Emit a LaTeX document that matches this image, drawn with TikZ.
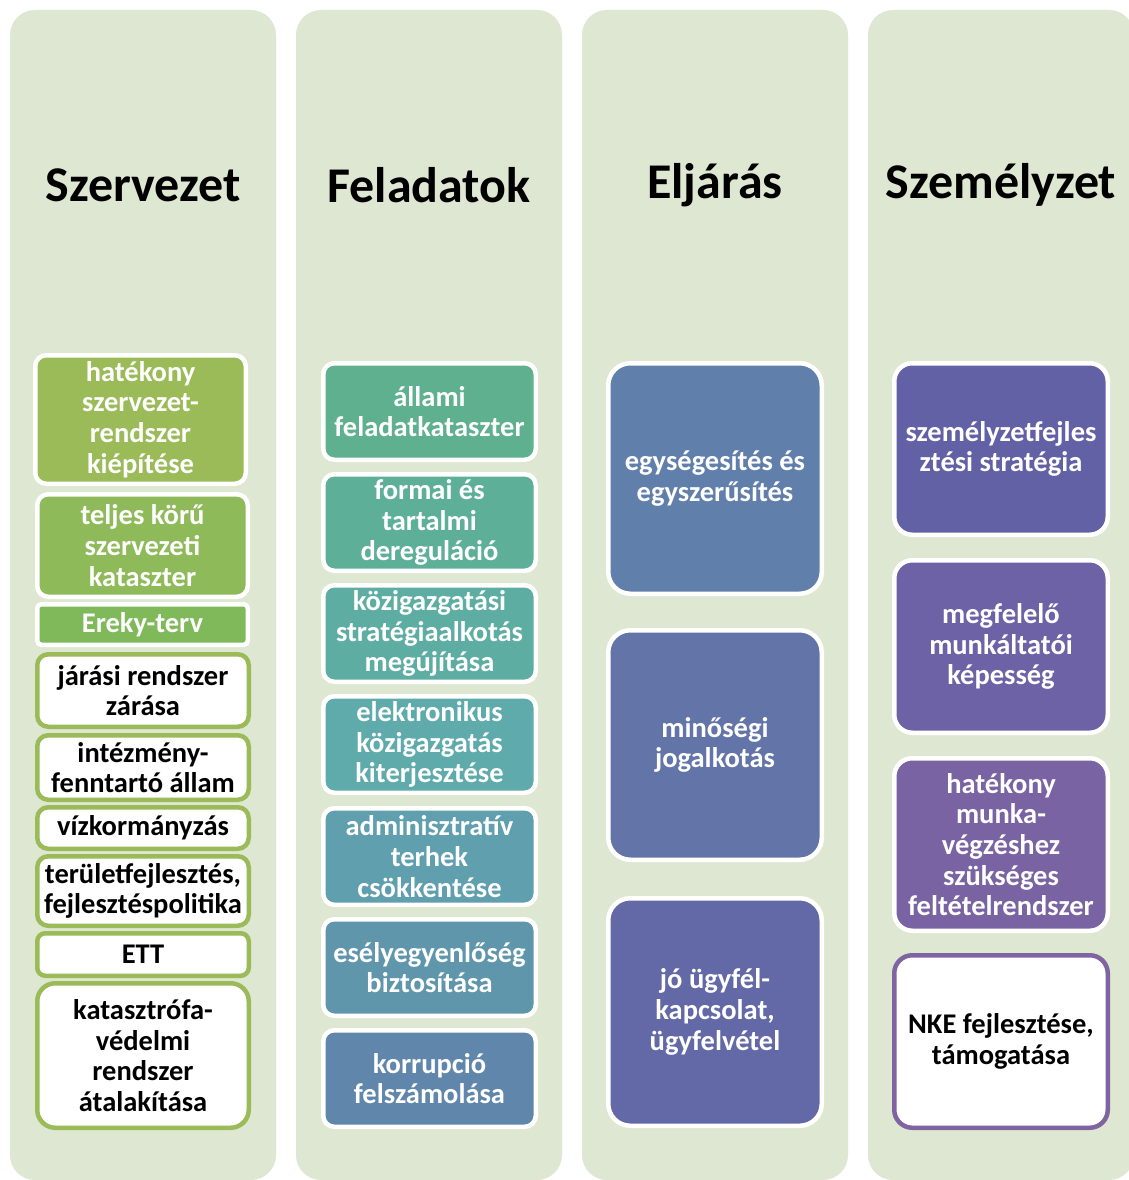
\documentclass[tikz,border=0pt]{standalone}
\usepackage{fontspec}
\setmainfont{Carlito}
\definecolor{colbg}{RGB}{222,231,209}
\definecolor{gA}{RGB}{155,187,89}
\definecolor{gB}{RGB}{142,186,89}
\definecolor{gC}{RGB}{128,185,90}
\definecolor{tA}{RGB}{94,176,143}
\definecolor{tB}{RGB}{94,175,151}
\definecolor{tC}{RGB}{94,173,163}
\definecolor{tD}{RGB}{95,171,172}
\definecolor{tE}{RGB}{95,159,174}
\definecolor{tF}{RGB}{96,150,172}
\definecolor{tG}{RGB}{96,135,171}
\definecolor{bA}{RGB}{96,127,171}
\definecolor{bB}{RGB}{98,116,168}
\definecolor{bC}{RGB}{99,104,166}
\definecolor{pA}{RGB}{99,97,165}
\definecolor{pB}{RGB}{110,98,166}
\definecolor{pC}{RGB}{121,99,163}
\definecolor{pD}{RGB}{128,100,162}
\tikzset{
  colbox/.style={fill=colbg, rounded corners=25pt},
  coltitle/.style={font=\fontsize{50}{58}\selectfont\bfseries, inner sep=0pt},
  bxbase/.style={align=center, font=\fontsize{28.5}{30.7}\selectfont\bfseries, inner sep=0pt, line width=4.5pt},
  wbox/.style={bxbase, draw=white, text=white, fill=#1},
  gbox/.style={bxbase, draw=gA, fill=white, text=black},
  pbox/.style={bxbase, draw=pD, fill=white, text=black},
  rA/.style={rounded corners=11pt},
  rB/.style={rounded corners=18pt},
  rC/.style={rounded corners=22pt},
}
\newcommand\bx[7]{%
  \node[#6, minimum width={#4-#2-4.5}, minimum height={#5-#3-4.5}] (#1)
    at ({(#2+#4)/2},{(#3+#5)/2}) {#7};}
\begin{document}
\begin{tikzpicture}[x=1pt,y=-1pt]
\clip (0,0) rectangle (1129,1180);
\fill[white] (0,0) rectangle (1129,1180);
% columns
\path[colbox] (10,10) rectangle (276,1180);
\path[colbox] (296,10) rectangle (562,1180);
\path[colbox] (582,10) rectangle (848,1180);
\path[colbox] (868,10) rectangle (1134,1180);
% titles
\node[coltitle] (t1) at (143,185) {Szervezet};
\node[coltitle] (t2) at (429,185) {Feladatok};
\node[coltitle] (t3) at (715,185) {Eljárás};
\node[coltitle] (t4) at (1001,185) {Személyzet};
% column 1
\bx{a1}{33}{353}{248}{486}{wbox=gA,rA}{hatékony\\szervezet-\\rendszer\\kiépítése}
\bx{a2}{35}{492}{250}{599}{wbox=gB,rA}{teljes körű\\szervezeti\\kataszter}
\bx{a3}{35}{602}{250}{647}{wbox=gC,rounded corners=4pt}{Ereky-terv}
\bx{a4}{35}{652}{251}{729}{gbox,rA}{járási rendszer\\zárása}
\bx{a5}{35}{733}{251}{802}{gbox,rA}{intézmény-\\fenntartó állam}
\bx{a6}{35}{805}{251}{851}{gbox,rA}{vízkormányzás}
\bx{a7}{35}{854}{251}{928}{gbox,rA}{területfejlesztés,\\fejlesztéspolitika}
\bx{a8}{35}{931}{251}{978}{gbox,rounded corners=8pt}{ETT}
\bx{a9}{35}{981}{251}{1130}{gbox,rB}{katasztrófa-\\védelmi\\rendszer\\átalakítása}
% column 2
\bx{b1}{321}{361}{538}{462}{wbox=tA,rA}{állami\\feladatkataszter}
\bx{b2}{321}{472}{538}{573}{wbox=tB,rA}{formai és\\tartalmi\\dereguláció}
\bx{b3}{321}{583}{538}{684}{wbox=tC,rA}{közigazgatási\\stratégiaalkotás\\megújítása}
\bx{b4}{321}{694}{538}{795}{wbox=tD,rA}{elektronikus\\közigazgatás\\kiterjesztése}
\bx{b5}{321}{806}{538}{907}{wbox=tE,rA}{adminisztratív\\terhek\\csökkentése}
\bx{b6}{321}{917}{538}{1018}{wbox=tF,rA}{esélyegyenlőség\\biztosítása}
\bx{b7}{321}{1028}{538}{1129}{wbox=tG,rA}{korrupció\\felszámolása}
% column 3
\bx{c1}{606}{361}{824}{596}{wbox=bA,rC}{egységesítés és\\egyszerűsítés}
\bx{c2}{606}{628}{824}{862}{wbox=bB,rC}{minőségi\\jogalkotás}
\bx{c3}{606}{896}{824}{1128}{wbox=bC,rC}{jó ügyfél-\\kapcsolat,\\ügyfelvétel}
% column 4
\bx{d1}{892}{361}{1110}{537}{wbox=pA,rB}{személyzetfejles\\ztési stratégia}
\bx{d2}{892}{558}{1110}{735}{wbox=pB,rB}{megfelelő\\munkáltatói\\képesség}
\bx{d3}{892}{756}{1110}{933}{wbox=pC,rB}{hatékony\\munka-\\végzéshez\\szükséges\\feltételrendszer}
\bx{d4}{892}{953}{1110}{1130}{pbox,rB}{NKE fejlesztése,\\támogatása}
\end{tikzpicture}
\end{document}
